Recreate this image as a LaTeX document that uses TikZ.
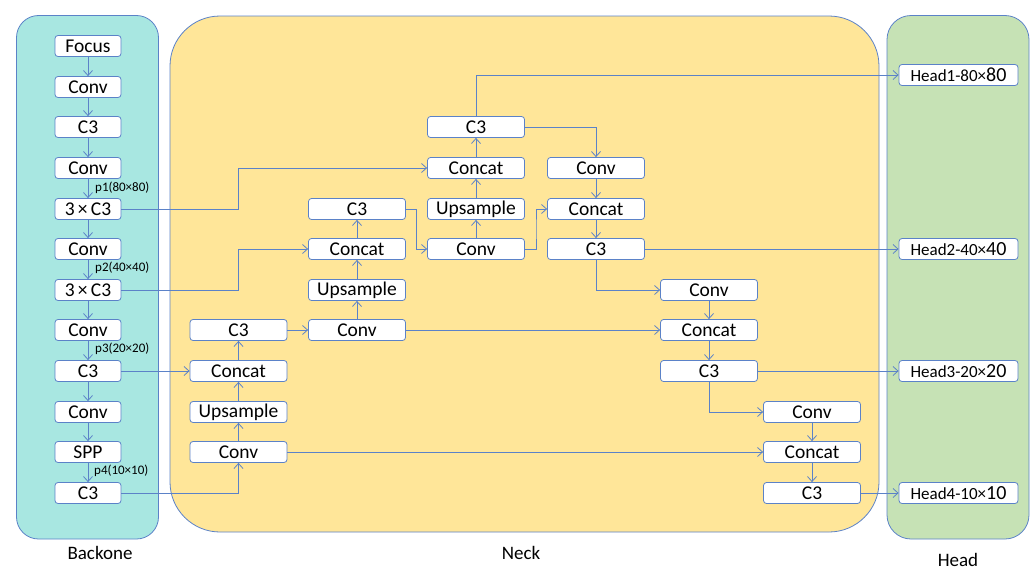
\documentclass[tikz,border=0pt]{standalone}
\usepackage{fontspec}
\setmainfont{Carlito}
\usetikzlibrary{arrows.meta,calc}
\definecolor{lc}{HTML}{5B82C8}
\definecolor{bbfill}{HTML}{A8E7E1}
\definecolor{nkfill}{HTML}{FFE699}
\definecolor{hdfill}{HTML}{C6E2B5}
\tikzset{
  box/.style={draw=lc, line width=0.8pt, fill=white, rounded corners=3pt, minimum width=97pt, minimum height=21pt, inner sep=0pt, font=\fontsize{19.5}{21}\selectfont},
  bbox/.style={box, minimum width=66pt},
  hbox/.style={box, minimum width=119pt, font=\fontsize{17}{18}\selectfont},
  panel/.style={draw=lc, line width=0.8pt},
  arr/.style={draw=lc, line width=0.8pt, -{Straight Barb[length=5pt,width=9pt]}},
  plabel/.style={font=\fontsize{13}{14}\selectfont, anchor=west, inner sep=0pt},
  title/.style={font=\fontsize{19}{21}\selectfont, inner sep=0pt}
}
\begin{document}
\begin{tikzpicture}[x=1pt,y=-1pt]
\useasboundingbox (0,0) rectangle (1033,570);
% panels
\path[panel, fill=bbfill, rounded corners=22pt] (16.5,15.5) rectangle (158.5,539);
\path[panel, fill=nkfill, rounded corners=50pt] (170,16) rectangle (879,532);
\path[panel, fill=hdfill, rounded corners=24pt] (887,15.5) rectangle (1029,539);
\node[title] (tb) at (100,553) {Backone};
\node[title] (tn) at (521,553) {Neck};
\node[title] (th) at (958,560) {Head};
% backbone
\node[bbox] (b1) at (88,46) {Focus};
\node[bbox] (b2) at (88,87) {Conv};
\node[bbox] (b3) at (88,127) {C3};
\node[bbox] (b4) at (88,168) {Conv};
\node[bbox] (b5) at (88,209) {3\,×\,C3};
\node[bbox] (b6) at (88,249) {Conv};
\node[bbox] (b7) at (88,290) {3\,×\,C3};
\node[bbox] (b8) at (88,330) {Conv};
\node[bbox] (b9) at (88,371) {C3};
\node[bbox] (b10) at (88,412) {Conv};
\node[bbox] (b11) at (88,452) {SPP};
\node[bbox] (b12) at (88,493) {C3};
\node[plabel] (p1) at (95,188) {p1(80×80)};
\node[plabel] (p2) at (95,268) {p2(40×40)};
\node[plabel] (p3) at (95,349) {p3(20×20)};
\node[plabel] (p4) at (94,471) {p4(10×10)};
\foreach \a/\b in {b1/b2,b2/b3,b3/b4,b4/b5,b5/b6,b6/b7,b7/b8,b8/b9,b9/b10,b10/b11,b11/b12}
  \draw[arr] (\a.south) -- (\b.north);
% neck column A
\node[box] (nA1) at (238.5,330) {C3};
\node[box] (nA2) at (238.5,371) {Concat};
\node[box] (nA3) at (238.5,412) {Upsample};
\node[box] (nA4) at (238.5,452) {Conv};
% column B
\node[box] (nB1) at (357,209) {C3};
\node[box] (nB2) at (357,249) {Concat};
\node[box] (nB3) at (357,290) {Upsample};
\node[box] (nB4) at (357,330) {Conv};
% column C
\node[box] (nC1) at (476,127) {C3};
\node[box] (nC2) at (476,168) {Concat};
\node[box] (nC3) at (476,209) {Upsample};
\node[box] (nC4) at (476,249) {Conv};
% column D
\node[box] (nD1) at (596,168) {Conv};
\node[box] (nD2) at (596,209) {Concat};
\node[box] (nD3) at (596,249) {C3};
% column E
\node[box] (nE1) at (709,290) {Conv};
\node[box] (nE2) at (709,330) {Concat};
\node[box] (nE3) at (709,371) {C3};
% column F
\node[box] (nF1) at (812,412) {Conv};
\node[box] (nF2) at (812,452) {Concat};
\node[box] (nF3) at (812,493) {C3};
% heads
\node[hbox] (h1) at (958.5,75) {Head1-80×{\fontsize{20}{20}\selectfont 80}};
\node[hbox] (h2) at (958.5,249) {Head2-40×{\fontsize{20}{20}\selectfont 40}};
\node[hbox] (h3) at (958.5,371) {Head3-20×{\fontsize{20}{20}\selectfont 20}};
\node[hbox] (h4) at (958.5,493) {Head4-10×{\fontsize{20}{20}\selectfont 10}};
% backbone to neck
\draw[arr] (b5.east) -- (b5.east -| nA1) |- (nC2.west);
\draw[arr] (b7.east) -- (b7.east -| nA1) |- (nB2.west);
\draw[arr] (b9.east) -- (nA2.west);
\draw[arr] (b12.east) -| (nA4.south);
% vertical chains up
\foreach \a/\b in {nA4/nA3,nA3/nA2,nA2/nA1,nB4/nB3,nB3/nB2,nB2/nB1,nC4/nC3,nC3/nC2,nC2/nC1}
  \draw[arr] (\a.north) -- (\b.south);
% vertical chains down
\foreach \a/\b in {nD1/nD2,nD2/nD3,nE1/nE2,nE2/nE3,nF1/nF2,nF2/nF3}
  \draw[arr] (\a.south) -- (\b.north);
% cross links
\draw[arr] (nA1.east) -- (nB4.west);
\draw[arr] (nB1.east) -| ($(nB1.east)!.5!(nC4.west)$) |- (nC4.west);
\draw[arr] (nC4.east) -| ($(nC4.east)!.5!(nD2.west)$) |- (nD2.west);
\draw[arr] (nC1.north) |- (h1.west);
\draw[arr] (nC1.east) -| (nD1.north);
\draw[arr] (nD3.east) -- (h2.west);
\draw[arr] (nD3.south) |- (nE1.west);
\draw[arr] (nB4.east) -- (nE2.west);
\draw[arr] (nE3.east) -- (h3.west);
\draw[arr] (nE3.south) |- (nF1.west);
\draw[arr] (nA4.east) -- (nF2.west);
\draw[arr] (nF3.east) -- (h4.west);
\end{tikzpicture}
\end{document}
